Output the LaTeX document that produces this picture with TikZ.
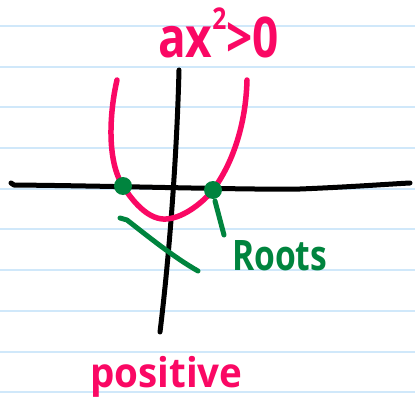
\documentclass[tikz,border=0pt]{standalone}
\usepackage{fontspec}
\setmainfont{Open Sans}
\definecolor{penpink}{RGB}{250,8,100}
\definecolor{pengreen}{RGB}{0,132,62}
\definecolor{ruleblue}{RGB}{208,232,250}
\begin{document}
\begin{tikzpicture}[x=1pt,y=-1pt,
  rule/.style={ruleblue,line width=1.6pt},
  axisline/.style={black,line width=5pt,line cap=round,line join=round},
  pinkpen/.style={penpink,line width=5.5pt,line cap=round,line join=round},
  greenpen/.style={pengreen,line width=5pt,line cap=round,line join=round},
  rootdot/.style={circle,fill=pengreen,inner sep=0pt,minimum size=18pt},
  hand/.style={inner sep=0pt,anchor=base west,font=\bfseries}]
\useasboundingbox (0,0) rectangle (415,409);
\fill[white] (0,0) rectangle (415,409);
% ruled lines
\foreach \y in {26,67,107,148,189,229,270,311,352,392}
  \draw[rule] (0,\y) -- (415,\y);
% axes
\draw[axisline] (11,183) -- (14,185) .. controls (120,186) and (250,190) .. (300,189) .. controls (350,187) and (390,184) .. (410,183);
\draw[axisline] (179,70) .. controls (177,150) and (170,250) .. (160,332);
% parabola
\draw[pinkpen] (117,80) .. controls (110,110) and (106,160) .. (123,186)
  .. controls (135,205) and (150,220) .. (166,219)
  .. controls (185,218) and (205,200) .. (213,190)
  .. controls (235,160) and (246,120) .. (247,80);
% roots
\node[rootdot] (r1) at (123,186) {};
\node[rootdot] (r2) at (213,190) {};
\draw[greenpen] (120,218) -- (127,220) .. controls (150,238) and (175,258) .. (198,271);
\draw[greenpen] (215,201) -- (224,235);
% texts
\node[hand,text=penpink] (top) at (158,58) {\fontsize{56}{60}\selectfont\scalebox{0.82}[1]{ax\raisebox{0.5em}{\fontsize{30}{30}\selectfont 2}>0}};
\node[hand,text=pengreen] (roots) at (232,270) {\fontsize{42}{44}\selectfont\scalebox{0.8}[1]{Roots}};
\node[hand,text=penpink] (pos) at (90,387) {\fontsize{41}{44}\selectfont\scalebox{0.94}[1]{positive}};
\end{tikzpicture}
\end{document}
